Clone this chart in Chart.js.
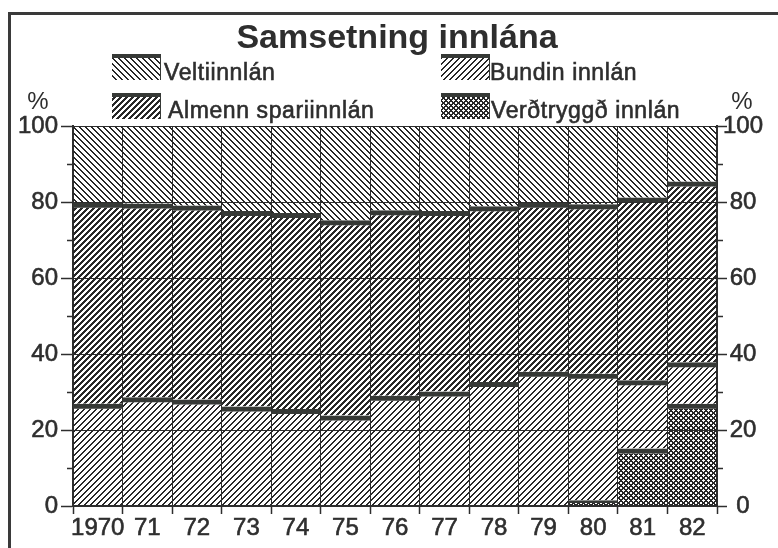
<!DOCTYPE html>
<html>
<head>
<meta charset="utf-8">
<title>Samsetning innlána</title>
<script src="https://cdn.jsdelivr.net/npm/chart.js@4.4.1/dist/chart.umd.min.js"></script>
<style>
  html, body { margin: 0; padding: 0; background: #fff; }
  canvas { display: block; }
</style>
</head>
<body>
<canvas id="depositChart" width="778" height="548"></canvas>
<script>
// shares of total deposits, % (bottom segment first)
const years = ["1970", "71", "72", "73", "74", "75", "76", "77", "78", "79", "80", "81", "82"];
const indexedDeposits = [0, 0, 0, 0, 0, 0, 0, 0, 0, 0, 1.5, 15.1, 26.9];
const timeDeposits = [26.9, 28.6, 28.0, 26.2, 25.5, 23.8, 29.0, 30.1, 32.6, 35.3, 33.3, 18.0, 10.9];
const savingsDeposits = [52.9, 51.0, 51.1, 51.4, 51.6, 51.4, 48.8, 47.5, 46.3, 44.5, 44.6, 48.1, 47.6];
const demandDeposits = [20.2, 20.4, 20.9, 22.4, 22.9, 24.8, 22.2, 22.4, 21.1, 20.2, 20.6, 18.8, 14.6];
const minorTicks = [10, 30, 50, 70, 90];

const ink = "#2e2e2e";
const band = "#363936";
const font = "'Liberation Sans', Arial, sans-serif";

// hatch tiles, drawn pixel by pixel so the lines stay crisp
function hatch(period, width, dirs) {
  const c = document.createElement("canvas");
  c.width = c.height = period;
  const g = c.getContext("2d");
  const img = g.createImageData(period, period);
  for (let y = 0; y < period; y++) {
    for (let x = 0; x < period; x++) {
      let on = false;
      if (dirs.includes("/") && (x + y) % period < width) on = true;
      if (dirs.includes("\\") && ((x - y) % period + period) % period < width) on = true;
      if (on) {
        const i = (y * period + x) * 4;
        img.data[i] = 40; img.data[i + 1] = 40; img.data[i + 2] = 40; img.data[i + 3] = 255;
      }
    }
  }
  g.putImageData(img, 0, 0);
  return g.createPattern(c, "repeat");
}

const patDemand = hatch(6, 2, "\\");
const patTime = hatch(6, 2, "/");
const patSavings = hatch(6, 3, "/");
const patIndexed = hatch(5, 2, "/\\");

const topBand = { top: 5, left: 0, right: 0, bottom: 0 };

// legend entries in the order they sit on the page (2 x 2)
const legendItems = [
  { text: "Veltiinnlán", pat: patDemand, x: 112, y: 54, tx: 164, ty: 80 },
  { text: "Bundin innlán", pat: patTime, x: 441, y: 54, tx: 490, ty: 80 },
  { text: "Almenn spariinnlán", pat: patSavings, x: 112, y: 93, tx: 168, ty: 118 },
  { text: "Verðtryggð innlán", pat: patIndexed, x: 441, y: 93, tx: 491, ty: 118 }
];

const decorations = {
  id: "decorations",
  afterDraw(chart) {
    const ctx = chart.ctx;
    const yScale = chart.scales.y;
    const area = chart.chartArea;
    ctx.save();

    // frame (top and left edge)
    ctx.fillStyle = "#3a3a3a";
    ctx.fillRect(8, 12, 770, 3);
    ctx.fillRect(8, 12, 3, 536);

    // title
    ctx.fillStyle = ink;
    ctx.textAlign = "center";
    ctx.textBaseline = "alphabetic";
    ctx.font = "bold 34px " + font;
    ctx.fillText("Samsetning innlána", 397, 48);

    // legend
    ctx.textAlign = "left";
    ctx.font = "23px " + font;
    ctx.strokeStyle = ink;
    ctx.lineWidth = 0.6;
    if ("letterSpacing" in ctx) ctx.letterSpacing = "0.6px";
    legendItems.forEach(item => {
      ctx.fillStyle = "#fff";
      ctx.fillRect(item.x, item.y, 49, 26);
      ctx.fillStyle = item.pat;
      ctx.fillRect(item.x, item.y, 49, 26);
      ctx.fillStyle = band;
      ctx.fillRect(item.x, item.y, 49, 4);
      ctx.fillRect(item.x + 48, item.y, 1, 26);
      ctx.fillStyle = ink;
      ctx.fillText(item.text, item.tx, item.ty);
      ctx.strokeText(item.text, item.tx, item.ty);
    });
    if ("letterSpacing" in ctx) ctx.letterSpacing = "0px";

    // % above both axes
    ctx.textAlign = "center";
    ctx.font = "24px " + font;
    ctx.fillText("%", 38, 109);
    ctx.fillText("%", 742, 109);

    // minor ticks on both value axes
    ctx.strokeStyle = ink;
    ctx.lineWidth = 1.5;
    minorTicks.forEach(v => {
      const py = Math.round(yScale.getPixelForValue(v)) + 0.5;
      ctx.beginPath();
      ctx.moveTo(area.left - 6, py);
      ctx.lineTo(area.left, py);
      ctx.moveTo(area.right, py);
      ctx.lineTo(area.right + 6, py);
      ctx.stroke();
    });
    ctx.restore();
  }
};

const tickFont = { family: font, size: 24 };

new Chart(document.getElementById("depositChart"), {
  type: "bar",
  data: {
    labels: years,
    datasets: [
      { label: "Verðtryggð innlán", data: indexedDeposits, backgroundColor: patIndexed, borderColor: band, borderWidth: topBand, borderSkipped: false },
      { label: "Bundin innlán", data: timeDeposits, backgroundColor: patTime, borderColor: band, borderWidth: topBand, borderSkipped: false },
      { label: "Almenn spariinnlán", data: savingsDeposits, backgroundColor: patSavings, borderColor: band, borderWidth: topBand, borderSkipped: false },
      { label: "Veltiinnlán", data: demandDeposits, backgroundColor: patDemand, borderWidth: 0 }
    ]
  },
  options: {
    responsive: false,
    animation: false,
    layout: { padding: { top: 126, left: 0, right: 0, bottom: 0 } },
    datasets: { bar: { barPercentage: 1, categoryPercentage: 1, inflateAmount: 0 } },
    plugins: {
      legend: { display: false },
      tooltip: { enabled: false }
    },
    scales: {
      x: {
        stacked: true,
        grid: { color: ink, lineWidth: 1, tickLength: 8, tickColor: ink, tickWidth: 1.5 },
        border: { color: ink, width: 2 },
        ticks: { color: ink, font: tickFont, padding: 0, maxRotation: 0, autoSkip: false, textStrokeColor: ink, textStrokeWidth: 0.6 },
        afterFit: s => { s.height = 42; }
      },
      y: {
        stacked: true,
        min: 0,
        max: 100,
        grid: { color: ink, lineWidth: 1, tickLength: 12, tickColor: ink, tickWidth: 1.5 },
        border: { color: ink, width: 2 },
        ticks: { stepSize: 20, color: ink, font: tickFont, padding: 3, textStrokeColor: ink, textStrokeWidth: 0.6 },
        afterFit: s => { s.width = 73; }
      },
      y2: {
        position: "right",
        min: 0,
        max: 100,
        grid: { drawOnChartArea: false, tickLength: 10, tickColor: ink, tickWidth: 1.5 },
        border: { color: ink, width: 2 },
        ticks: { stepSize: 20, color: ink, font: tickFont, padding: -4, crossAlign: "center", textStrokeColor: ink, textStrokeWidth: 0.6 },
        afterFit: s => { s.width = 61; }
      }
    }
  },
  plugins: [decorations]
});
</script>
</body>
</html>
